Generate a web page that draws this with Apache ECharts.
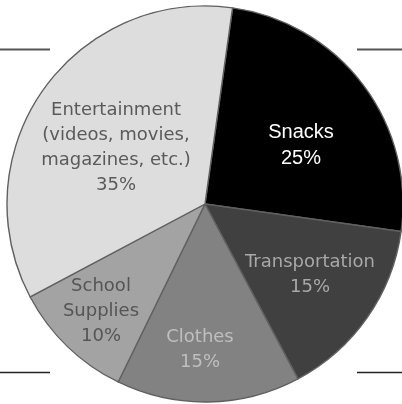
<!DOCTYPE html>
<html>
<head>
<meta charset="utf-8">
<script src="https://cdn.jsdelivr.net/npm/echarts@6/dist/echarts.min.js"></script>
<style>
html,body{margin:0;padding:0;background:#fff;}
#chart{width:402px;height:404px;}
</style>
</head>
<body>
<div id="chart"></div>
<script>
const categories = ['Snacks', 'Transportation', 'Clothes', 'School\nSupplies', 'Entertainment\n(videos, movies,\nmagazines, etc.)'];
const values = [25, 15, 15, 10, 35];
const sliceColors = ['#000000', '#404040', '#828282', '#a3a3a3', '#dddddd'];
const textColors = ['#ffffff', '#a8a8a8', '#bfbfbf', '#555555', '#5a5a5a'];
const labelPos = [[301, 145], [310, 275], [200, 350], [101, 311], [116, 148]];

const chart = echarts.init(document.getElementById('chart'), null, {renderer: 'canvas'});
chart.setOption({
  animation: false,
  backgroundColor: '#ffffff',
  graphic: [
    {type: 'line', shape: {x1: 0, y1: 49.5, x2: 50, y2: 49.5}, style: {stroke: '#555', lineWidth: 2}},
    {type: 'line', shape: {x1: 357, y1: 49.5, x2: 402, y2: 49.5}, style: {stroke: '#555', lineWidth: 2}},
    {type: 'line', shape: {x1: 0, y1: 372.5, x2: 50, y2: 372.5}, style: {stroke: '#222', lineWidth: 1.5}},
    {type: 'line', shape: {x1: 357, y1: 372.5, x2: 402, y2: 372.5}, style: {stroke: '#222', lineWidth: 1.5}}
  ],
  series: [{
    type: 'pie',
    center: [205, 204],
    radius: [0, 198],
    startAngle: 82,
    clockwise: true,
    silent: true,
    itemStyle: {borderColor: '#606060', borderWidth: 1.4},
    labelLine: {show: false},
    label: {
      show: true,
      position: 'inside',
      formatter: '{b}\n{c}%',
      fontFamily: 'DejaVu Sans',
      fontSize: 18,
      lineHeight: 25,
      align: 'center'
    },
    labelLayout: function (p) {
      const pos = labelPos[p.dataIndex];
      return {x: pos[0], y: pos[1], align: 'center', verticalAlign: 'middle'};
    },
    data: categories.map(function (c, i) {
      const d = {
        name: c,
        value: values[i],
        itemStyle: {color: sliceColors[i]},
        label: {color: textColors[i]}
      };
      if (i === 0) {
        d.label.fontFamily = 'Liberation Sans';
        d.label.fontSize = 20;
        d.label.lineHeight = 26;
      }
      return d;
    })
  }]
});
</script>
</body>
</html>
